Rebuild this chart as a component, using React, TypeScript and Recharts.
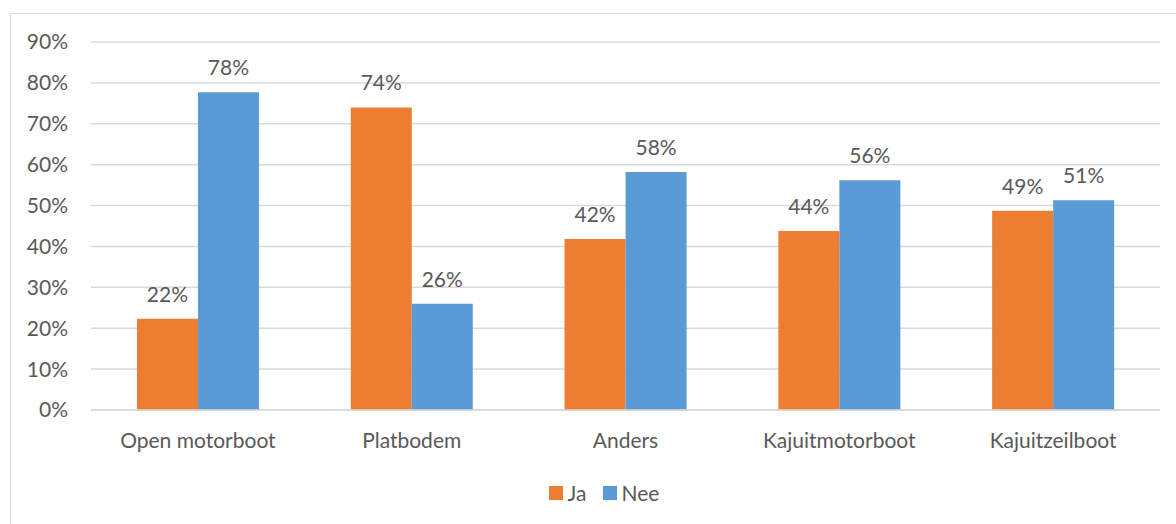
import { BarChart, Bar, XAxis, YAxis, CartesianGrid, Legend, LabelList } from "recharts";

const categories = ["Open motorboot", "Platbodem", "Anders", "Kajuitmotorboot", "Kajuitzeilboot"];
const jaValues = [22.3, 74.0, 41.8, 43.8, 48.7];
const neeValues = [77.7, 26.0, 58.2, 56.2, 51.3];
const yTicks = [0, 10, 20, 30, 40, 50, 60, 70, 80, 90];

const data = categories.map((name, i) => ({ name, ja: jaValues[i], nee: neeValues[i] }));

const FONT = "Lato, 'Open Sans', sans-serif";
const TEXT = "#595959";
const FS = 21;

const pct = (v: any) => `${Math.round(Number(v))}%`;

const LegendContent = ({ payload }: any) => (
  <div style={{ display: "flex", justifyContent: "center", paddingLeft: 32, alignItems: "center" }}>
    {(payload || []).map((entry: any, i: number) => (
      <div key={i} style={{ display: "flex", alignItems: "center", marginRight: i === 0 ? 16 : 0 }}>
        <span style={{ width: 14, height: 14, background: entry.color, display: "inline-block", marginRight: 5 }} />
        <span style={{ color: TEXT, fontSize: FS, fontFamily: FONT }}>{entry.value}</span>
      </div>
    ))}
  </div>
);

export default function App() {
  return (
    <div style={{ position: "relative", width: 1176, height: 524, overflow: "hidden", background: "#fff", fontFamily: FONT }}>
      <style>{"body{margin:0}"}</style>
      <div
        style={{
          position: "absolute",
          left: 10,
          top: 13,
          width: 1200,
          height: 600,
          border: "1px solid #d9d9d9",
          boxSizing: "border-box",
        }}
      />
      <div style={{ position: "absolute", left: 0, top: 0 }}>
        <BarChart
          width={1176}
          height={524}
          data={data}
          margin={{ top: 42, right: 16, bottom: 59, left: 0 }}
          barCategoryGap="21.5%"
          barGap={0}
        >
          <CartesianGrid vertical={false} stroke="#d9d9d9" strokeWidth={1.5} />
          <XAxis
            dataKey="name"
            axisLine={{ stroke: "#d9d9d9", strokeWidth: 1.5 }}
            tickLine={false}
            tickSize={0}
            tickMargin={23}
            tick={{ fill: TEXT, fontSize: FS, fontFamily: FONT }}
            interval={0}
          />
          <YAxis
            width={91}
            domain={[0, 90]}
            ticks={yTicks}
            tickFormatter={(v) => `${v}%`}
            axisLine={false}
            tickLine={false}
            tickSize={0}
            tickMargin={23}
            tick={{ fill: TEXT, fontSize: FS, fontFamily: FONT }}
          />
          <Legend
            verticalAlign="bottom"
            content={<LegendContent />}
            wrapperStyle={{ position: "absolute", top: 480, left: 0, width: 1176 }}
          />
          <Bar dataKey="ja" name="Ja" fill="#ED7D31" isAnimationActive={false}>
            <LabelList dataKey="ja" position="top" offset={17} formatter={pct} fill={TEXT} fontSize={FS} fontFamily={FONT} />
          </Bar>
          <Bar dataKey="nee" name="Nee" fill="#5B9BD5" isAnimationActive={false}>
            <LabelList dataKey="nee" position="top" offset={17} formatter={pct} fill={TEXT} fontSize={FS} fontFamily={FONT} />
          </Bar>
        </BarChart>
      </div>
    </div>
  );
}
